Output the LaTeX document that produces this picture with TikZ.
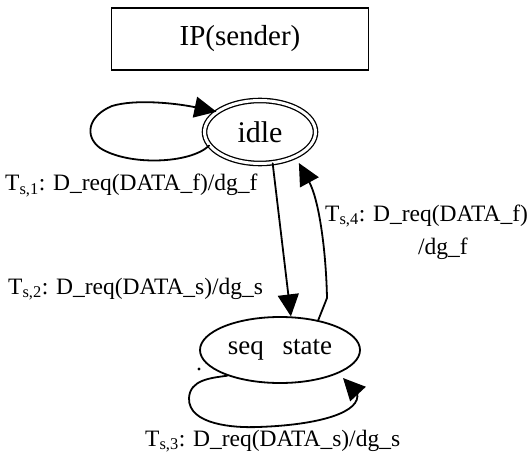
\documentclass[tikz,border=0pt]{standalone}
\usepackage{fontspec}
\setmainfont{Liberation Serif}
\usetikzlibrary{shapes.geometric,arrows.meta}
\begin{document}
\begin{tikzpicture}[x=1pt,y=-1pt,
  every node/.style={inner sep=0pt},
  wire/.style={line width=1.8pt, line join=round, line cap=round},
  arr/.style={wire, -{Triangle[length=22pt,width=21pt]}},
  lbl/.style={font=\fontsize{23.5}{28}\selectfont, anchor=base west},
  finalstate/.style={ellipse, draw, line width=1.3pt, double, double distance=3pt},
  plainstate/.style={ellipse, draw, line width=1.8pt},
]
\useasboundingbox (0,0) rectangle (529,454);

% title box
\node[draw, line width=1.4pt, minimum width=257pt, minimum height=62pt,
      font=\fontsize{29}{34}\selectfont] (ip) at (240,39) {IP(sender)};

% states
\node[finalstate, minimum width=111pt, minimum height=63pt,
      font=\fontsize{30}{34}\selectfont] (idle) at (260,132) {idle};
\node[plainstate, minimum width=160pt, minimum height=66pt,
      font=\fontsize{27}{32}\selectfont] (seq) at (280,350) {seq\hspace{0.7em}state};

\coordinate (s3tip) at (343,378);
\coordinate (speck) at (199,369);

% transitions
\draw[arr] (idle.195) .. controls (190,164) and (128,166) .. (100,148)
           .. controls (84,136) and (88,116) .. (112,106)
           .. controls (135,99) and (175,103) .. (idle.155);
\draw[arr] (idle.-68) -- (seq.72);
\draw[arr, shorten >=7pt] (seq.38) -- (327,298)
           .. controls (326,250) and (319,200) .. (idle.-35);
\draw[arr] (seq.206) .. controls (210,378) and (190,380) .. (189,398)
           .. controls (188,425) and (235,428) .. (258,427)
           .. controls (320,425) and (362,412) .. (357,393) -- (s3tip);
\fill (speck) circle (1.6pt);

% transition labels
\node[lbl] (t1) at (5,191) {T\textsubscript{s,1}: D\_req(DATA\_f)/dg\_f};
\node[lbl] (t4) at (325,221) {T\textsubscript{s,4}: D\_req(DATA\_f)};
\node[lbl] (t4b) at (418,254) {/dg\_f};
\node[lbl] (t2) at (8,294) {T\textsubscript{s,2}: D\_req(DATA\_s)/dg\_s};
\node[lbl] (t3) at (145,446) {T\textsubscript{s,3}: D\_req(DATA\_s)/dg\_s};
\end{tikzpicture}
\end{document}
